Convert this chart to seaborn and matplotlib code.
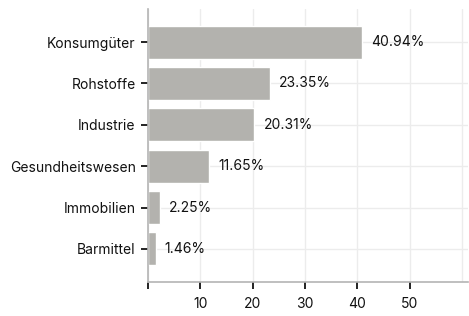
import matplotlib
matplotlib.use("Agg")
import matplotlib.pyplot as plt
import seaborn as sns
import pandas as pd

# data
categories = ["Konsumgüter", "Rohstoffe", "Industrie", "Gesundheitswesen", "Immobilien", "Barmittel"]
values = [40.94, 23.35, 20.31, 11.65, 2.25, 1.46]
labels = ["40.94%", "23.35%", "20.31%", "11.65%", "2.25%", "1.46%"]

sns.set_theme(style="white")
plt.rcParams["font.family"] = ["Inter", "DejaVu Sans"]

BAR = "#b3b2ae"
GRID = "#ececec"
SPINE = "#b4b4b4"

df = pd.DataFrame({"Sektor": categories, "Anteil": values})

fig = plt.figure(figsize=(4.69, 3.16), dpi=100)
ax = fig.add_axes([148 / 469, 34 / 316, 320 / 469, 273 / 316])

ax.set_axisbelow(True)
sns.barplot(data=df, x="Anteil", y="Sektor", color=BAR, width=0.8,
            saturation=1, ax=ax, zorder=2)

for i, (v, lab) in enumerate(zip(values, labels)):
    ax.annotate(lab, (v, i), xytext=(6.5, 0), textcoords="offset points",
                va="center", ha="left", fontsize=10, color="#111111")

ax.set_xlim(0, 61.1)
ax.set_ylim(5.8, -0.8)
ax.set_xticks([0, 10, 20, 30, 40, 50])
ax.set_xticklabels(["", "10", "20", "30", "40", "50"])
ax.set_xticks([60], minor=True)
ax.grid(True, which="both", color=GRID, lw=1, zorder=0)
ax.tick_params(axis="x", which="minor", length=0, bottom=False)
ax.tick_params(axis="x", which="major", bottom=True, direction="out", length=5,
               width=1.3, color="#111111", labelsize=10, labelcolor="#111111", pad=6)
ax.tick_params(axis="y", left=True, direction="out", length=5, width=1.3,
               color="#111111", labelsize=10, labelcolor="#111111", pad=4)
ax.set_xlabel("")
ax.set_ylabel("")

for s in ["top", "right"]:
    ax.spines[s].set_visible(False)
for s in ["left", "bottom"]:
    ax.spines[s].set_color(SPINE)
    ax.spines[s].set_linewidth(1.2)

plt.savefig("out.png", dpi=100)
plt.close()
